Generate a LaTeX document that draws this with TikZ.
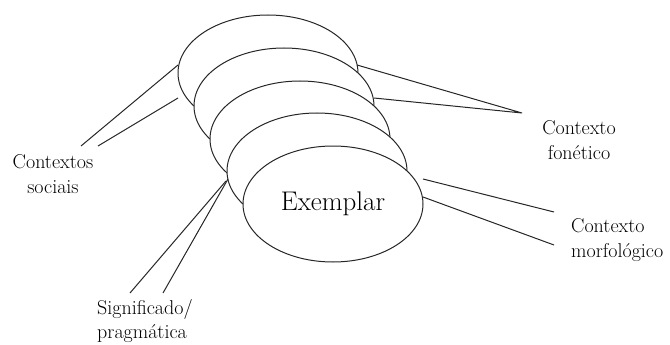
\documentclass[tikz,border=0pt]{standalone}
\usetikzlibrary{shapes.geometric}
\begin{document}
\begin{tikzpicture}[x=1pt,y=-1pt,
  layer/.style={ellipse, draw=black!85, fill=white, line width=1pt,
    minimum width=180pt, minimum height=116pt, inner sep=0pt},
  lbl/.style={font=\fontsize{20}{25.5}\selectfont, inner sep=0pt},
  link/.style={draw=black!85, line width=1pt}]
\useasboundingbox (0,0) rectangle (670,345);

% stacked layers, back to front
\node[layer] (e1) at (268,73) {};
\node[layer] (e2) at (284,106) {};
\node[layer] (e3) at (300,139) {};
\node[layer] (e4) at (317,171) {};
\node[layer, font=\fontsize{27}{32}\selectfont] (e5) at (333,204) {Exemplar};

% labels
\node[lbl, align=center] (soc) at (53,174) {Contextos\\sociais};
\node[lbl, align=center] (fon) at (579,140) {Contexto\\fonético};
\node[lbl, align=left, anchor=west] (mor) at (571,240) {Contexto\\morfológico};
\node[lbl, align=left, anchor=west, font=\fontsize{20}{24}\selectfont] (sig) at (97,321) {Significado/\\pragmática};

% connector end points
\coordinate (s1) at (178,65);
\coordinate (s2) at (178,98);
\coordinate (sa) at (81,146);
\coordinate (sb) at (98,146);
\coordinate (f1) at (357,65);
\coordinate (f2) at (374,98);
\coordinate (fx) at (522,113);
\coordinate (m1) at (423,179);
\coordinate (m2) at (423,197);
\coordinate (ma) at (554,212);
\coordinate (mb) at (554,245);
\coordinate (g1) at (226,181);
\coordinate (g2) at (228,179);
\coordinate (ga) at (130,293);
\coordinate (gb) at (163,293);

% connectors
\draw[link] (sa) -- (s1);
\draw[link] (sb) -- (s2);
\draw[link] (f1) -- (fx) -- (f2);
\draw[link] (m1) -- (ma);
\draw[link] (m2) -- (mb);
\draw[link] (ga) -- (g1);
\draw[link] (gb) -- (g2);
\end{tikzpicture}
\end{document}
